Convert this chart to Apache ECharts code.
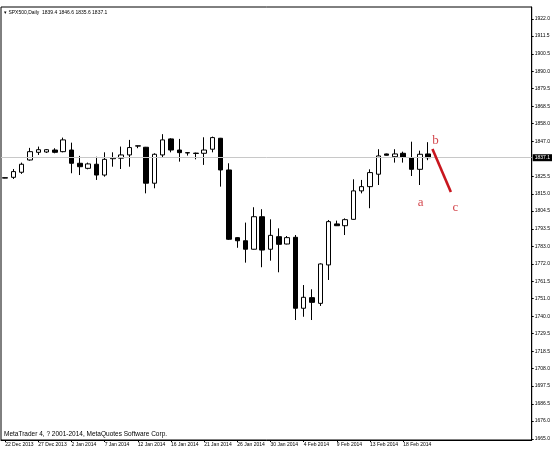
<!DOCTYPE html>
<html>
<head>
<meta charset="utf-8">
<style>html,body{margin:0;padding:0;background:#fff;}#c{width:553px;height:449px;}</style>
<script src="https://cdn.jsdelivr.net/npm/echarts@6/dist/echarts.min.js"></script>
</head>
<body>
<div id="c"></div>
<script>
const dates = ['22 Dec 2013','23 Dec 2013','24 Dec 2013','26 Dec 2013','27 Dec 2013','29 Dec 2013','30 Dec 2013','31 Dec 2013',
  '2 Jan 2014','3 Jan 2014','5 Jan 2014','6 Jan 2014','7 Jan 2014','8 Jan 2014','9 Jan 2014','10 Jan 2014',
  '12 Jan 2014','13 Jan 2014','14 Jan 2014','15 Jan 2014','16 Jan 2014','17 Jan 2014','19 Jan 2014','20 Jan 2014',
  '21 Jan 2014','22 Jan 2014','23 Jan 2014','24 Jan 2014','26 Jan 2014','27 Jan 2014','28 Jan 2014','29 Jan 2014',
  '30 Jan 2014','31 Jan 2014','2 Feb 2014','3 Feb 2014','4 Feb 2014','5 Feb 2014','6 Feb 2014','7 Feb 2014',
  '9 Feb 2014','10 Feb 2014','11 Feb 2014','12 Feb 2014','13 Feb 2014','14 Feb 2014','16 Feb 2014','17 Feb 2014',
  '18 Feb 2014','19 Feb 2014','20 Feb 2014','21 Feb 2014'];
const opens  = [1824.6,1825.1,1828.2,1835.7,1840.4,1840.6,1841.8,1840.8,1841.8,1833.7,1830.6,1833.1,1826.5,1836.5,1836.8,1838.8,
  1844.2,1843.5,1821.5,1838.8,1848.6,1841.8,1840.2,1839.9,1839.8,1842.3,1849.0,1829.6,1788.2,1786.3,1781.1,1801.0,
  1781.1,1788.8,1784.3,1788.4,1745.0,1751.5,1748.0,1771.5,1796.6,1795.5,1799.4,1816.8,1819.4,1827.0,1839.4,1837.7,
  1839.8,1837.1,1830.0,1839.4];
const highs  = [1825.0,1830.2,1834.1,1843.1,1843.9,1842.4,1842.9,1849.4,1846.3,1838.2,1834.1,1837.7,1840.4,1840.4,1843.9,1848.0,
  1844.5,1843.7,1839.8,1851.5,1849.0,1848.6,1840.4,1840.2,1849.6,1850.0,1849.2,1833.7,1788.5,1797.4,1806.8,1805.6,
  1799.4,1793.9,1789.2,1789.8,1759.2,1756.6,1772.5,1799.0,1798.6,1800.0,1823.9,1823.5,1830.0,1842.3,1839.6,1842.3,
  1840.8,1846.9,1841.4,1846.6];
const lows   = [1824.5,1824.1,1827.2,1835.3,1838.8,1840.0,1839.8,1840.4,1827.6,1826.5,1830.0,1823.5,1825.5,1831.6,1830.2,1831.6,
  1842.9,1815.3,1818.4,1837.4,1840.4,1834.7,1838.4,1836.1,1832.7,1840.4,1819.4,1786.8,1782.0,1772.9,1780.9,1770.1,
  1774.1,1767.0,1784.1,1737.8,1739.8,1737.8,1746.4,1762.3,1795.3,1789.8,1799.2,1815.3,1806.2,1820.4,1838.4,1834.1,
  1834.1,1825.9,1820.4,1835.6];
const closes = [1824.9,1828.6,1833.1,1840.8,1842.0,1842.0,1840.4,1848.0,1833.7,1831.6,1833.3,1826.5,1836.1,1837.2,1838.8,1843.3,
  1844.4,1821.5,1839.2,1848.0,1841.8,1840.2,1840.0,1839.7,1841.8,1849.4,1829.6,1787.2,1786.3,1781.1,1801.0,1780.6,
  1789.6,1784.1,1788.2,1745.0,1751.7,1748.6,1772.1,1798.0,1795.5,1799.2,1816.8,1819.4,1828.0,1838.2,1838.6,1839.4,
  1837.4,1830.0,1839.2,1837.1];
const yTicks = [1922.0,1911.5,1900.5,1890.0,1879.5,1868.5,1858.0,1847.0,1825.5,1815.0,1804.5,1793.5,1783.0,1772.0,
  1761.5,1751.0,1740.0,1729.5,1718.5,1708.0,1697.5,1686.5,1676.0,1665.0];
const lastPrice = 1837.1;
// hand-drawn annotation (x in bar-index units, y in price)
const annoLineX = [51.53, 53.75];
const annoLineY = [1842.4, 1816.1];
const annoText = ['b','a','c'];
const annoX = [51.9, 50.1, 54.3];
const annoY = [1847.6, 1809.6, 1806.6];

const totalSlots = 64;
const cats = dates.slice();
while (cats.length < totalSlots) cats.push('');
const candleData = dates.map((d,i)=>[opens[i], closes[i], lows[i], highs[i]]);

const FONT = 'Liberation Sans';
const RED = '#c8161e';
const showIdx = (i) => i % 4 === 0 && i < dates.length;
const chart = echarts.init(document.getElementById('c'), null, {renderer:'canvas'});
chart.setOption({
  animation: false,
  backgroundColor: '#fff',
  grid: {left: 1, right: 20, top: 7, bottom: 9, show: true, borderColor: '#000', borderWidth: 1, backgroundColor: '#fff'},
  xAxis: [{
    type: 'category', data: cats, boundaryGap: true,
    axisLine: {show: true, onZero: false, lineStyle: {color: '#000', width: 1}},
    axisTick: {show: true, interval: showIdx, alignWithLabel: true, length: 2, lineStyle: {color: '#000'}},
    axisLabel: {interval: showIdx, align: 'left', fontSize: 5, fontFamily: FONT, color: '#000', margin: 2},
    splitLine: {show: false}
  },{
    type: 'value', min: -0.5, max: totalSlots - 0.5, show: false,
    axisLine: {onZero: false}
  }],
  yAxis: {
    type: 'value', position: 'right', min: 1664.4, max: 1929.3, scale: true,
    axisLine: {show: true, onZero: false, lineStyle: {color: '#000', width: 1}},
    axisTick: {show: true, customValues: yTicks, length: 2, lineStyle: {color: '#000'}},
    axisLabel: {customValues: yTicks, formatter: v => Number(v).toFixed(1), fontSize: 5, fontFamily: FONT, color: '#000', margin: 3},
    splitLine: {show: false}
  },
  series: [{
    type: 'candlestick', data: candleData, barWidth: 5,
    itemStyle: {color: '#fff', color0: '#000', borderColor: '#000', borderColor0: '#000', borderWidth: 1},
    markLine: {
      symbol: 'none', silent: true, animation: false,
      lineStyle: {color: '#c8c8c8', width: 1, type: 'solid'},
      label: {position: 'end', formatter: lastPrice.toFixed(1), backgroundColor: '#000', color: '#fff',
        fontSize: 5, fontFamily: FONT, padding: [1,2,1,2], distance: 1},
      data: [{yAxis: lastPrice}]
    }
  },{
    type: 'line', xAxisIndex: 1, data: annoLineX.map((x,i)=>[x, annoLineY[i]]),
    symbol: 'none', lineStyle: {color: RED, width: 2.6}, silent: true, z: 5
  },{
    type: 'scatter', xAxisIndex: 1, data: annoX.map((x,i)=>({value:[x, annoY[i]], name: annoText[i]})),
    symbolSize: 0, silent: true, z: 6,
    label: {show: true, position: 'inside', formatter: p => p.name, color: RED, fontSize: 13, fontFamily: 'Liberation Serif'}
  }],
  graphic: [
    {type: 'text', left: 4, top: 10, style: {text: '\u25BE SPX500,Daily  ' + [opens[51], highs[51], lows[51], closes[51]].map(v=>v.toFixed(1)).join(' '), fontSize: 5, fontFamily: FONT, fill: '#000'}},
    {type: 'text', left: 4, top: 431, style: {text: 'MetaTrader 4, ? 2001-2014, MetaQuotes Software Corp.', fontSize: 6.5, fontFamily: FONT, fill: '#000'}}
  ]
});
</script>
</body>
</html>
